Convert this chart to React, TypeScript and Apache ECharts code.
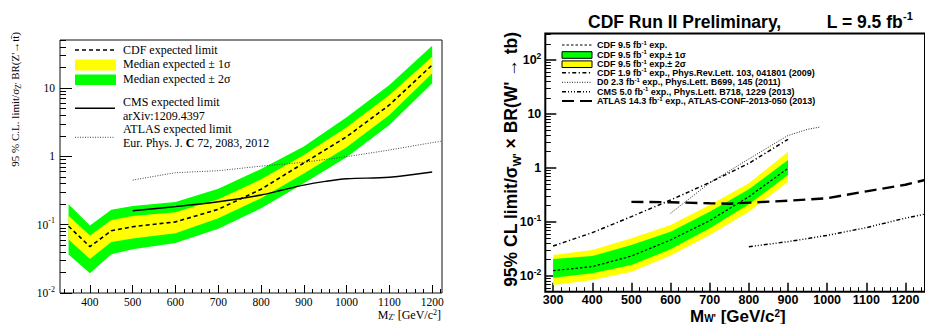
import React, { useEffect, useRef } from 'react';
import * as echarts from 'echarts';

// ---------------- Left panel: Z' -> t tbar ----------------
const massL = [350, 400, 450, 500, 600, 700, 800, 900, 1000, 1100, 1200];
const cdfExpL = [0.095, 0.0477, 0.0815, 0.0935, 0.11, 0.168, 0.33, 0.8, 1.94, 5.66, 21.8];
const oneSigLoL = [0.0605, 0.0315, 0.0558, 0.063, 0.0748, 0.124, 0.244, 0.56, 1.36, 4.04, 16.5];
const oneSigHiL = [0.135, 0.0695, 0.117, 0.134, 0.152, 0.236, 0.462, 1.05, 2.67, 7.9, 28.8];
const twoSigLoL = [0.0366, 0.0194, 0.037, 0.0437, 0.054, 0.0873, 0.174, 0.404, 0.97, 2.88, 11.8];
const twoSigHiL = [0.1995, 0.0973, 0.166, 0.188, 0.215, 0.336, 0.653, 1.39, 3.73, 11.1, 41.8];
const cmsMassL = [500, 600, 700, 800, 850, 900, 950, 1000, 1100, 1200];
const cmsL = [0.16, 0.184, 0.217, 0.272, 0.322, 0.38, 0.43, 0.47, 0.495, 0.59];
const atlasMassL = [500, 600, 700, 800, 900, 1000, 1100, 1200, 1220];
const atlasL = [0.451, 0.577, 0.617, 0.72, 0.82, 0.99, 1.24, 1.59, 1.66];
const xTicksL = [400, 500, 600, 700, 800, 900, 1000, 1100, 1200];
const yDecadesL = [-2, -1, 0, 1];

// ---------------- Right panel: W' -> tb ----------------
const massR = [300, 400, 500, 600, 700, 800, 900];
const cdfExpR = [0.01256, 0.0149, 0.0234, 0.0464, 0.106, 0.294, 0.986];
const oneSigLoR = [0.0093, 0.0112, 0.016, 0.0312, 0.0764, 0.212, 0.741];
const oneSigHiR = [0.0207, 0.0234, 0.0375, 0.0662, 0.155, 0.403, 1.41];
const twoSigLoR = [0.0068, 0.00843, 0.012, 0.024, 0.0574, 0.155, 0.557];
const twoSigHiR = [0.0245, 0.0303, 0.0499, 0.088, 0.2065, 0.52, 2.0];
const cdf19Mass = [300, 400, 500, 600, 700, 800, 900];
const cdf19 = [0.036, 0.0634, 0.126, 0.255, 0.54, 1.22, 3.4];
const d0Mass = [600, 700, 800, 900, 950, 980];
const d0 = [0.145, 0.53, 1.47, 4.0, 5.2, 5.7];
const cmsMassR = [800, 900, 1000, 1100, 1200, 1250];
const cmsR = [0.0349, 0.0432, 0.0565, 0.0785, 0.118, 0.14];
const atlasMassR = [500, 600, 700, 750, 800, 900, 1000, 1100, 1200, 1250];
const atlasR = [0.236, 0.232, 0.222, 0.218, 0.228, 0.248, 0.275, 0.37, 0.49, 0.6];
const xTicksR = [300, 400, 500, 600, 700, 800, 900, 1000, 1100, 1200];
const yDecadesR = [-2, -1, 0, 1, 2];

const SERIF = '"Liberation Serif", "Times New Roman", serif';
const SANS = '"Liberation Sans", Arial, Helvetica, sans-serif';
const YELLOW = '#ffff00';
const GREEN = '#00ff00';

const lg = (v: number) => Math.log10(v);

function minorX(lo: number, hi: number, step: number, majors: number[]) {
  const out: number[] = [];
  for (let v = lo; v <= hi; v += step) if (!majors.includes(v)) out.push(v);
  return out;
}
function minorLog(lo: number, hi: number) {
  const out: number[] = [];
  for (let e = Math.floor(lo); e <= Math.ceil(hi); e++) {
    for (let k = 2; k <= 9; k++) {
      const v = e + Math.log10(k);
      if (v > lo && v < hi) out.push(v);
    }
  }
  return out;
}

function band(ai: number, mass: number[], lo: number[], hi: number[], color: string, z: number) {
  return {
    type: 'custom',
    xAxisIndex: ai,
    yAxisIndex: ai,
    z,
    silent: true,
    clip: true,
    data: mass.map((m, i) => [m, lg(lo[i]), lg(hi[i])]),
    renderItem: (params: any, api: any) => {
      if (params.dataIndex !== 0) return null;
      const pts: number[][] = [];
      for (let i = 0; i < mass.length; i++) pts.push(api.coord([mass[i], lg(hi[i])]));
      for (let i = mass.length - 1; i >= 0; i--) pts.push(api.coord([mass[i], lg(lo[i])]));
      return { type: 'polygon', shape: { points: pts }, style: { fill: color, stroke: 'none', lineWidth: 0 } };
    },
  };
}

function line(ai: number, mass: number[], vals: number[], style: any, z: number, smooth: any = false) {
  return {
    type: 'line',
    xAxisIndex: ai,
    yAxisIndex: ai,
    z,
    silent: true,
    smooth,
    symbol: 'none',
    clip: true,
    data: mass.map((m, i) => [m, lg(vals[i])]),
    lineStyle: style,
  };
}

const expFormatter = (v: number) => {
  const e = Math.round(v);
  if (e === 0) return '1';
  if (e === 1) return '10';
  return `10{s|${e}}`;
};
const plainFormatter = (v: number) => String(Math.round(v));

function buildOption() {
  const xMinorL = minorX(340, 1220, 20, xTicksL);
  const xMinorR = minorX(280, 1240, 20, xTicksR);
  const yMinL = -2, yMaxL = 1.704;
  const yMinR = -2.291, yMaxR = 2.491;

  const grids = [
    { left: 60, top: 40, width: 382, height: 253, show: true, borderColor: '#111', borderWidth: 1, backgroundColor: 'transparent' },
    { left: 545.3, top: 33.5, width: 389, height: 258.2, show: true, borderColor: '#000', borderWidth: 2, backgroundColor: 'transparent' },
  ];

  const noLine = { show: false, onZero: false };

  const xAxes = [
    {
      gridIndex: 0, type: 'value', min: 330, max: 1223, position: 'bottom',
      axisLine: noLine, splitLine: { show: false },
      axisTick: { inside: true, length: 8, customValues: xTicksL, lineStyle: { color: '#000', width: 1 } },
      axisLabel: { customValues: xTicksL, margin: 3, fontFamily: SERIF, fontSize: 11.5, lineHeight: 12, color: '#000', formatter: plainFormatter },
    },
    {
      gridIndex: 0, type: 'value', min: 330, max: 1223, position: 'bottom',
      axisLine: noLine, splitLine: { show: false },
      axisTick: { inside: true, length: 4, customValues: xMinorL, lineStyle: { color: '#000', width: 1 } },
      axisLabel: { show: false },
    },
    {
      gridIndex: 1, type: 'value', min: 280, max: 1250, position: 'bottom',
      axisLine: noLine, splitLine: { show: false },
      axisTick: { inside: true, length: 9, customValues: xTicksR, lineStyle: { color: '#000', width: 1.5 } },
      axisLabel: { customValues: xTicksR, margin: 2, fontFamily: SANS, fontWeight: 'bold', fontSize: 12.5, lineHeight: 12, color: '#000', formatter: plainFormatter },
    },
    {
      gridIndex: 1, type: 'value', min: 280, max: 1250, position: 'bottom',
      axisLine: noLine, splitLine: { show: false },
      axisTick: { inside: true, length: 4.5, customValues: xMinorR, lineStyle: { color: '#000', width: 1 } },
      axisLabel: { show: false },
    },
  ];

  const yAxes = [
    {
      gridIndex: 0, type: 'value', min: yMinL, max: yMaxL, position: 'left',
      axisLine: noLine, splitLine: { show: false },
      axisTick: { inside: true, length: 12, customValues: yDecadesL, lineStyle: { color: '#000', width: 1 } },
      axisLabel: {
        customValues: yDecadesL, margin: 5, fontFamily: SERIF, fontSize: 11.5, color: '#000', lineHeight: 16,
        formatter: expFormatter,
        rich: { s: { fontFamily: SERIF, fontSize: 8, lineHeight: 8, verticalAlign: 'top', color: '#000' } },
      },
    },
    {
      gridIndex: 0, type: 'value', min: yMinL, max: yMaxL, position: 'left',
      axisLine: noLine, splitLine: { show: false },
      axisTick: { inside: true, length: 6, customValues: minorLog(yMinL, yMaxL), lineStyle: { color: '#000', width: 1 } },
      axisLabel: { show: false },
    },
    {
      gridIndex: 1, type: 'value', min: yMinR, max: yMaxR, position: 'left',
      axisLine: noLine, splitLine: { show: false },
      axisTick: { inside: true, length: 11, customValues: yDecadesR, lineStyle: { color: '#000', width: 1.5 } },
      axisLabel: {
        customValues: yDecadesR, margin: 4, fontFamily: SANS, fontWeight: 'bold', fontSize: 12.5, color: '#000', lineHeight: 17,
        formatter: expFormatter,
        rich: { s: { fontFamily: SANS, fontWeight: 'bold', fontSize: 8.5, lineHeight: 9, verticalAlign: 'top', color: '#000' } },
      },
    },
    {
      gridIndex: 1, type: 'value', min: yMinR, max: yMaxR, position: 'left',
      axisLine: noLine, splitLine: { show: false },
      axisTick: { inside: true, length: 5.5, customValues: minorLog(yMinR, yMaxR), lineStyle: { color: '#000', width: 1 } },
      axisLabel: { show: false },
    },
  ];

  const series: any[] = [
    band(0, massL, twoSigLoL, twoSigHiL, GREEN, 1),
    band(0, massL, oneSigLoL, oneSigHiL, YELLOW, 2),
    line(0, massL, cdfExpL, { color: '#000', width: 1.6, type: [4, 3] }, 5),
    line(0, cmsMassL, cmsL, { color: '#000', width: 1.4, type: 'solid' }, 4, 0.35),
    line(0, atlasMassL, atlasL, { color: '#444', width: 1, type: [1, 1.5] }, 4),

    band(2, massR, twoSigLoR, twoSigHiR, YELLOW, 1),
    band(2, massR, oneSigLoR, oneSigHiR, GREEN, 2),
    line(2, massR, cdfExpR, { color: '#000', width: 1.2, type: [2.5, 2] }, 6),
    line(2, cdf19Mass, cdf19, { color: '#000', width: 1.5, type: [4, 2.5, 1.2, 2.5] }, 5),
    line(2, d0Mass, d0, { color: '#222', width: 1, type: [1, 1.5] }, 5),
    line(2, cmsMassR, cmsR, { color: '#000', width: 1.5, type: [4, 2, 1, 2, 1, 2, 1, 2] }, 5),
    line(2, atlasMassR, atlasR, { color: '#000', width: 2.4, type: [12, 6] }, 5),
  ];

  const supRich = (fs: number, fam: string, bold: boolean) => ({
    s: { fontFamily: fam, fontWeight: bold ? 'bold' : 'normal', fontSize: fs, lineHeight: fs, verticalAlign: 'top', fill: '#000' },
    u: { fontFamily: fam, fontWeight: bold ? 'bold' : 'normal', fontSize: fs, lineHeight: fs, verticalAlign: 'bottom', fill: '#000' },
    b: { fontFamily: fam, fontWeight: 'bold', fontSize: 12, fill: '#000' },
  });

  const legL = (y: number, text: string) => ({
    type: 'text', x: 123, y,
    style: { text, fontFamily: SERIF, fontSize: 12, fill: '#000', align: 'left', verticalAlign: 'middle', rich: supRich(8, SERIF, false) },
  });
  const legR = (y: number, text: string) => ({
    type: 'text', x: 597, y,
    style: {
      text, fontFamily: SANS, fontWeight: 'bold', fontSize: 9, lineHeight: 11, fill: '#000', align: 'left', verticalAlign: 'middle',
      rich: supRich(6, SANS, true),
    },
  });
  const symLine = (x1: number, x2: number, y: number, stroke: string, lineWidth: number, lineDash: any) => ({
    type: 'line', shape: { x1, y1: y, x2, y2: y }, style: { stroke, lineWidth, lineDash },
  });

  const graphic: any[] = [
    // Left legend
    symLine(75, 115, 50, '#000', 1.6, [4, 3]),
    { type: 'rect', shape: { x: 75, y: 59.5, width: 41, height: 11 }, style: { fill: YELLOW } },
    { type: 'rect', shape: { x: 75, y: 74.5, width: 41, height: 10.5 }, style: { fill: GREEN } },
    symLine(75, 115, 108.3, '#000', 1.4, null),
    symLine(75, 115, 137.3, '#444', 1, [1, 1.5]),
    legL(50, 'CDF expected limit'),
    legL(64.3, 'Median expected ± 1σ'),
    legL(79.3, 'Median expected ± 2σ'),
    legL(101.7, 'CMS expected limit'),
    legL(116, 'arXiv:1209.4397'),
    legL(129.3, 'ATLAS expected limit'),
    legL(143.3, 'Eur. Phys. J. {b|C} 72, 2083, 2012'),
    // Left axis titles
    {
      type: 'text', x: 15, y: 32, rotation: Math.PI / 2,
      style: {
        text: "95 % C.L. limit/σ{u|Z'} BR(Z'→tt\u0304)", fontFamily: SERIF, fontSize: 11, lineHeight: 14, fill: '#000',
        align: 'right', verticalAlign: 'middle', rich: supRich(8, SERIF, false),
      },
    },
    {
      type: 'text', x: 441, y: 315,
      style: {
        text: "M{u|Z'} [GeV/c{s|2}]", fontFamily: SERIF, fontSize: 12, lineHeight: 13, fill: '#000',
        align: 'right', verticalAlign: 'middle', rich: supRich(8, SERIF, false),
      },
    },
    // Right title
    {
      type: 'text', x: 588, y: 21.7,
      style: { text: 'CDF Run II Preliminary,', fontFamily: SANS, fontWeight: 'bold', fontSize: 17.5, fill: '#000', align: 'left', verticalAlign: 'middle' },
    },
    {
      type: 'text', x: 826.7, y: 21.7,
      style: {
        text: 'L = 9.5 fb{s|-1}', fontFamily: SANS, fontWeight: 'bold', fontSize: 17.5, lineHeight: 22, fill: '#000',
        align: 'left', verticalAlign: 'middle', rich: supRich(11, SANS, true),
      },
    },
    // Right legend
    symLine(562, 592, 45, '#000', 1, [2.5, 2]),
    { type: 'rect', shape: { x: 562, y: 51.7, width: 30, height: 6.6 }, style: { fill: GREEN, stroke: '#000', lineWidth: 1 } },
    { type: 'rect', shape: { x: 562, y: 60.9, width: 30, height: 6.6 }, style: { fill: YELLOW, stroke: '#000', lineWidth: 1 } },
    symLine(562, 592, 72.7, '#000', 1.5, [4, 2.5, 1.2, 2.5]),
    symLine(562, 592, 82.3, '#222', 1, [1, 1.5]),
    symLine(562, 592, 91.7, '#000', 1.5, [4, 2, 1, 2, 1, 2, 1, 2]),
    symLine(562, 592, 101, '#000', 2.2, [12, 6]),
    legR(45, 'CDF 9.5 fb{s|-1} exp.'),
    legR(54.7, 'CDF 9.5 fb{s|-1} exp.± 1σ'),
    legR(64, 'CDF 9.5 fb{s|-1} exp.± 2σ'),
    legR(72.7, 'CDF 1.9 fb{s|-1} exp., Phys.Rev.Lett. 103, 041801 (2009)'),
    legR(82.3, 'D0 2.3 fb{s|-1} exp., Phys.Lett. B699, 145 (2011)'),
    legR(91.7, 'CMS 5.0 fb{s|-1} exp., Phys.Lett. B718, 1229 (2013)'),
    legR(101, 'ATLAS 14.3 fb{s|-1} exp., ATLAS-CONF-2013-050 (2013)'),
    // Right axis titles
    {
      type: 'text', x: 511, y: 32, rotation: Math.PI / 2,
      style: {
        text: "95% CL limit/σ{u|W'} × BR(W' → tb)", fontFamily: SANS, fontWeight: 'bold', fontSize: 17.5, lineHeight: 22, fill: '#000',
        align: 'right', verticalAlign: 'middle', rich: supRich(11, SANS, true),
      },
    },
    {
      type: 'text', x: 690, y: 316,
      style: {
        text: "M{u|W'} [GeV/c{s|2}]", fontFamily: SANS, fontWeight: 'bold', fontSize: 17, lineHeight: 15, fill: '#000',
        align: 'left', verticalAlign: 'middle', rich: supRich(10, SANS, true),
      },
    },
  ];

  return {
    animation: false,
    backgroundColor: '#ffffff',
    grid: grids,
    xAxis: xAxes,
    yAxis: yAxes,
    series,
    graphic,
  };
}

export default function App() {
  const ref = useRef<HTMLDivElement>(null);
  useEffect(() => {
    if (!ref.current) return;
    const chart = echarts.init(ref.current, null, { renderer: 'svg' });
    chart.setOption(buildOption() as any);
    return () => chart.dispose();
  }, []);
  return (
    <div
      ref={ref}
      style={{ position: 'fixed', left: 0, top: 0, width: 925, height: 324, background: '#fff' }}
    />
  );
}
